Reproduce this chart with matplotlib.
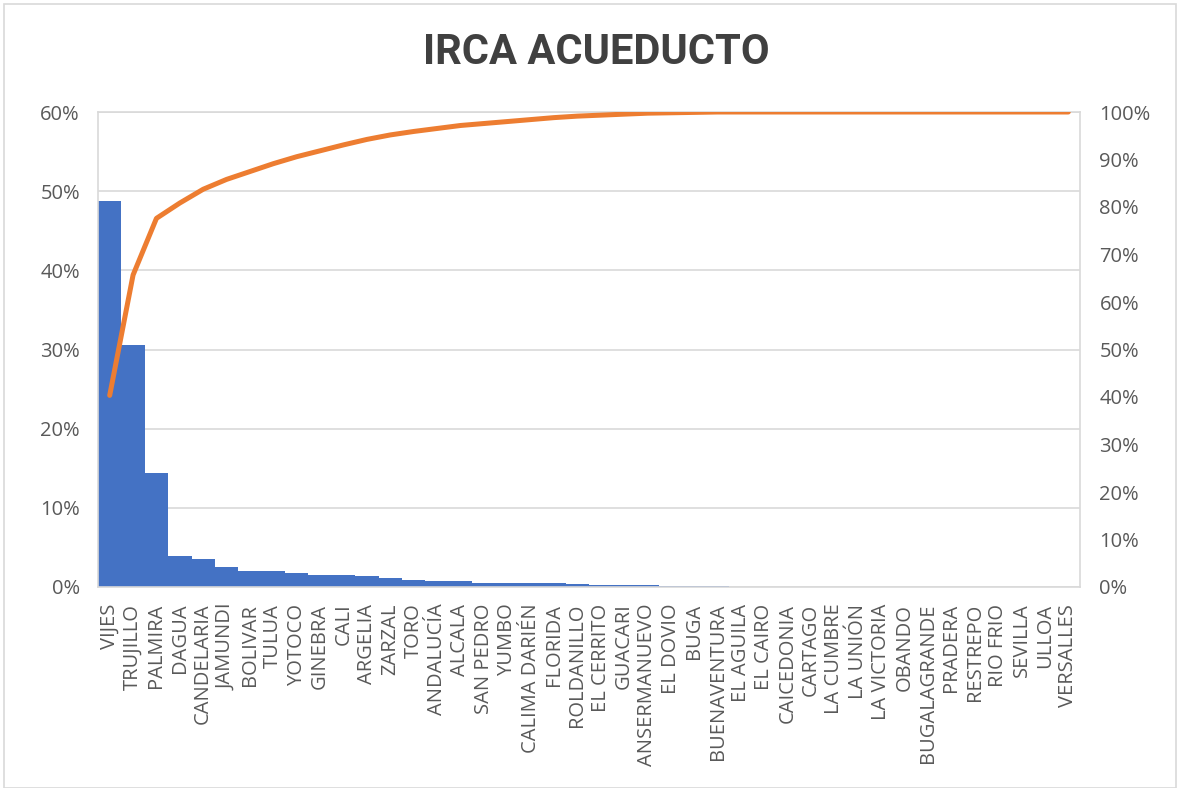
import matplotlib.pyplot as plt
from matplotlib.patches import Rectangle
from matplotlib.ticker import PercentFormatter

municipios = [
    "VIJES", "TRUJILLO", "PALMIRA", "DAGUA", "CANDELARIA", "JAMUNDI",
    "BOLIVAR", "TULUA", "YOTOCO", "GINEBRA", "CALI", "ARGELIA", "ZARZAL",
    "TORO", "ANDALUCÍA", "ALCALA", "SAN PEDRO", "YUMBO", "CALIMA DARIÉN",
    "FLORIDA", "ROLDANILLO", "EL CERRITO", "GUACARI", "ANSERMANUEVO",
    "EL DOVIO", "BUGA", "BUENAVENTURA", "EL AGUILA", "EL CAIRO",
    "CAICEDONIA", "CARTAGO", "LA CUMBRE", "LA UNIÓN", "LA VICTORIA",
    "OBANDO", "BUGALAGRANDE", "PRADERA", "RESTREPO", "RIO FRIO", "SEVILLA",
    "ULLOA", "VERSALLES",
]
irca = [
    48.7, 30.6, 14.4, 3.9, 3.5, 2.5, 2.0, 2.0, 1.77, 1.5, 1.5, 1.39, 1.14,
    0.88, 0.76, 0.76, 0.5, 0.5, 0.5, 0.5, 0.38, 0.25, 0.25, 0.25,
    0.1, 0.1, 0.1, 0, 0, 0, 0, 0, 0, 0, 0, 0, 0, 0, 0, 0, 0, 0,
]

total = sum(irca)
acumulado = []
s = 0
for v in irca:
    s += v
    acumulado.append(s / total * 100)

gris = "#D9D9D9"
texto = "#595959"
plt.rcParams["font.family"] = ["Open Sans", "DejaVu Sans"]

fig = plt.figure(figsize=(11.8, 7.88), dpi=100)
fig.patches.append(Rectangle((0.003, 0.0), 0.994, 0.995, transform=fig.transFigure,
                             fill=False, edgecolor=gris, linewidth=1.2))
ax = fig.add_axes([98 / 1180, 1 - 587 / 788, (1080 - 98) / 1180, (587 - 112) / 788])
x = list(range(len(municipios)))

ax.bar(x, irca, width=1.0, color="#4472C4", zorder=2)
ax.set_xlim(-0.5, len(municipios) - 0.5)
ax.set_ylim(0, 60)
ax.set_yticks(range(0, 61, 10))
ax.yaxis.set_major_formatter(PercentFormatter(decimals=0))
ax.grid(axis="y", color=gris, linewidth=1.2, zorder=0)
ax.set_axisbelow(True)
ax.set_xticks(x)
ax.set_xticklabels(municipios, rotation=90, va="top", ha="center")
ax.tick_params(length=0, labelsize=14.5, colors=texto, pad=12)
ax.tick_params(axis="y", pad=13)
for sp in ax.spines.values():
    sp.set_color(gris)
    sp.set_linewidth(1.2)

ax2 = ax.twinx()
ax2.plot(x, acumulado, color="#ED7D31", linewidth=3.6, solid_capstyle="round",
         solid_joinstyle="round", zorder=3)
ax2.set_ylim(0, 100)
ax2.set_yticks(range(0, 101, 10))
ax2.yaxis.set_major_formatter(PercentFormatter(decimals=0))
ax2.tick_params(length=0, labelsize=14.5, colors=texto, pad=14)
for sp in ax2.spines.values():
    sp.set_visible(False)

fig.text(0.505, 0.934, "IRCA ACUEDUCTO", ha="center", va="center",
         fontsize=30, fontweight="bold", color="#404040",
         family=["Roboto", "DejaVu Sans"])

fig.savefig("out.png", dpi=100)
